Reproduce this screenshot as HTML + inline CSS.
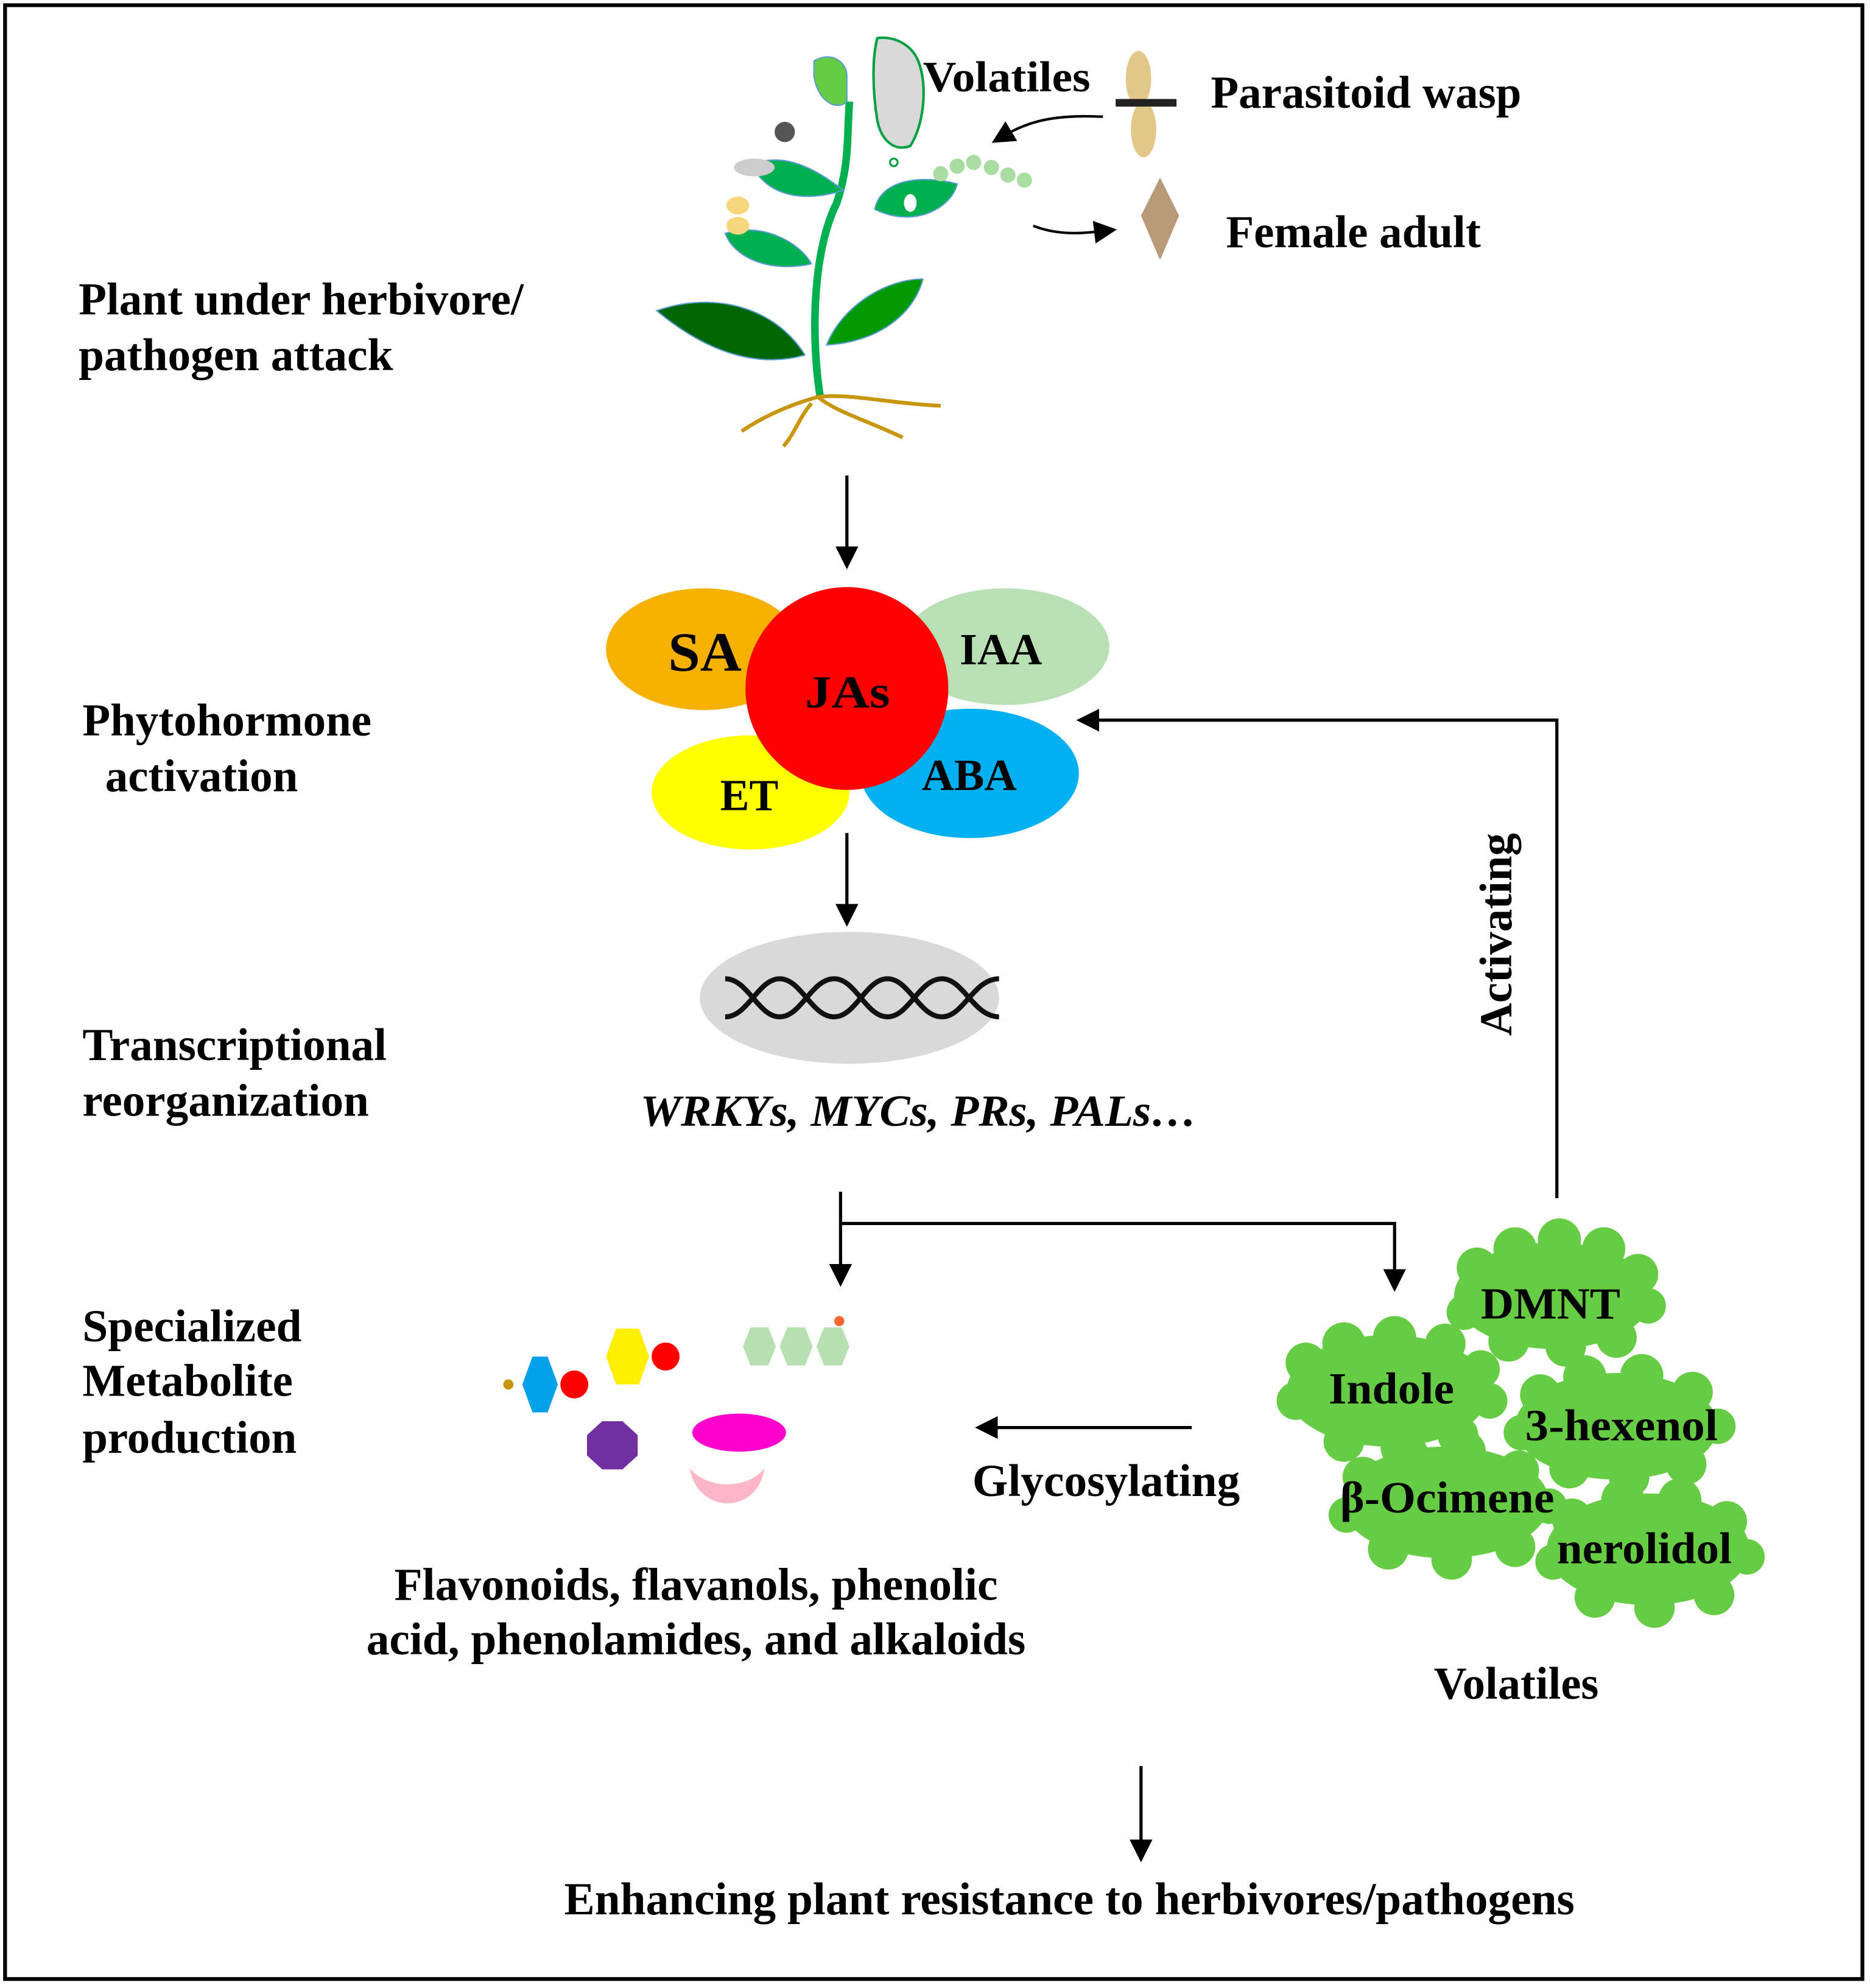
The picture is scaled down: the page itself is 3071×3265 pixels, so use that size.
<!DOCTYPE html>
<html><head><meta charset="utf-8"><style>
html,body{margin:0;padding:0;background:#fff}
svg{display:block}
text{font-family:"Liberation Serif",serif;font-weight:bold;fill:#000}
</style></head><body>
<svg width="3071" height="3265" viewBox="0 0 1475 1568" xmlns="http://www.w3.org/2000/svg">
<defs>
<marker id="ah2" markerWidth="18" markerHeight="18" refX="9" refY="9" orient="auto" markerUnits="userSpaceOnUse" viewBox="0 0 18 18">
<path d="M0,0 L18,9 L0,18 z" fill="#000"/></marker>
</defs>
<rect x="0" y="0" width="1475" height="1568" fill="#fff"/>
<rect x="4" y="4" width="1465" height="1557" fill="none" stroke="#000" stroke-width="3"/>

<!-- plant -->
<g>
<path d="M647,313 C640,270 640,200 660,160 C670,130 668,110 670,80" stroke="#00b050" stroke-width="6" fill="none"/>
<path d="M642,48 C655,40 668,48 668,60 L668,80 C660,88 645,80 642,60 Z" fill="#66cc44" stroke="#5b9bd5" stroke-width="1"/>
<path d="M518,245 C560,230 610,240 635,280 C600,290 560,280 518,245 Z" fill="#006600" stroke="#5b9bd5" stroke-width="1"/>
<path d="M652,272 C665,240 700,220 728,220 C720,250 690,270 652,272 Z" fill="#009900" stroke="#5b9bd5" stroke-width="1"/>
<path d="M572,184 C600,175 630,190 640,208 C610,215 580,205 572,184 Z" fill="#00b050" stroke="#5b9bd5" stroke-width="1"/>
<path d="M593,130 C615,120 640,130 665,150 C635,160 605,155 593,130 Z" fill="#00b050" stroke="#5b9bd5" stroke-width="1"/>
<path d="M690,165 C695,140 730,138 755,145 C750,165 720,180 690,165 Z" fill="#00b050" stroke="#5b9bd5" stroke-width="1"/>
<ellipse cx="718" cy="160" rx="5" ry="7" fill="#fff"/>
<ellipse cx="595" cy="132" rx="16" ry="7" fill="#ccc"/>
<circle cx="619" cy="104" r="8" fill="#555"/>
<ellipse cx="582" cy="162" rx="9" ry="7" fill="#f5d67a"/>
<ellipse cx="582" cy="178" rx="9" ry="7" fill="#f5d67a"/>
<path d="M692,30 C705,28 720,35 725,50 C732,70 728,100 718,115 C705,120 695,110 692,95 C688,70 688,45 692,30 Z" fill="#d9d9d9" stroke="#00a040" stroke-width="2"/>
<circle cx="705" cy="128" r="3" fill="none" stroke="#00a040" stroke-width="1.5"/>
<g fill="#a8dca0"><circle cx="742" cy="137" r="6"/><circle cx="755" cy="131" r="6"/><circle cx="768" cy="128" r="6"/><circle cx="782" cy="132" r="6"/><circle cx="795" cy="138" r="6"/><circle cx="808" cy="142" r="6"/></g>
<path d="M645,313 C670,310 700,318 742,320 M645,313 C620,320 600,330 585,340 M645,313 C660,325 680,330 712,345 M640,318 C630,330 628,340 618,352" stroke="#c8960c" stroke-width="3" fill="none"/>
</g>
<text x="728" y="72" font-size="34" textLength="132" lengthAdjust="spacingAndGlyphs">Volatiles</text>
<ellipse cx="898" cy="62" rx="10" ry="22" fill="#d9b96b" opacity="0.8"/>
<ellipse cx="902" cy="102" rx="10" ry="22" fill="#d9b96b" opacity="0.8"/>
<rect x="880" y="78" width="48" height="6" fill="#222"/>
<path d="M915,140 L930,170 L915,205 L900,170 Z" fill="#b99a78"/>
<text x="955" y="85" font-size="36" textLength="245" lengthAdjust="spacingAndGlyphs">Parasitoid wasp</text>
<text x="967" y="195" font-size="36" textLength="201" lengthAdjust="spacingAndGlyphs">Female adult</text>
<path d="M870,92 C830,90 810,96 790,108" stroke="#000" stroke-width="2" fill="none" marker-end="url(#ah2)"/>
<path d="M815,178 C835,186 855,184 872,182" stroke="#000" stroke-width="2" fill="none" marker-end="url(#ah2)"/>

<!-- left labels -->
<text x="62" y="248" font-size="36" textLength="351" lengthAdjust="spacingAndGlyphs">Plant under herbivore/</text>
<text x="62" y="292" font-size="36" textLength="248" lengthAdjust="spacingAndGlyphs">pathogen attack</text>
<text x="65" y="580" font-size="36" textLength="228" lengthAdjust="spacingAndGlyphs">Phytohormone</text>
<text x="83" y="624" font-size="36" textLength="152" lengthAdjust="spacingAndGlyphs">activation</text>
<text x="65" y="836" font-size="36" textLength="240" lengthAdjust="spacingAndGlyphs">Transcriptional</text>
<text x="65" y="880" font-size="36" textLength="226" lengthAdjust="spacingAndGlyphs">reorganization</text>
<text x="65" y="1058" font-size="36" textLength="173" lengthAdjust="spacingAndGlyphs">Specialized</text>
<text x="65" y="1101" font-size="36" textLength="166" lengthAdjust="spacingAndGlyphs">Metabolite</text>
<text x="65" y="1146" font-size="36" textLength="169" lengthAdjust="spacingAndGlyphs">production</text>

<!-- arrows -->
<line x1="668" y1="375" x2="668" y2="440" stroke="#000" stroke-width="2.5" marker-end="url(#ah2)"/>
<line x1="668" y1="657" x2="668" y2="722" stroke="#000" stroke-width="2.5" marker-end="url(#ah2)"/>
<line x1="663" y1="940" x2="663" y2="1006" stroke="#000" stroke-width="2.5" marker-end="url(#ah2)"/>
<polyline points="663,965 1100,965 1100,1010" fill="none" stroke="#000" stroke-width="2.5" marker-end="url(#ah2)"/>
<polyline points="1228,945 1228,568 858,568" fill="none" stroke="#000" stroke-width="2.5" marker-end="url(#ah2)"/>
<text transform="translate(1192,737) rotate(-90)" text-anchor="middle" font-size="36" textLength="160" lengthAdjust="spacingAndGlyphs">Activating</text>

<!-- hormones -->
<ellipse cx="555" cy="512" rx="77" ry="48" fill="#f5b000"/>
<ellipse cx="793" cy="510" rx="82" ry="46" fill="#b9e0b4"/>
<ellipse cx="592" cy="625" rx="78" ry="45" fill="#ffff00"/>
<ellipse cx="765" cy="610" rx="86" ry="51" fill="#00b0f0"/>
<circle cx="668" cy="543" r="80" fill="#ff0000"/>
<text x="527" y="529" font-size="44" textLength="58" lengthAdjust="spacingAndGlyphs">SA</text>
<text x="635" y="558" font-size="36" textLength="67" lengthAdjust="spacingAndGlyphs">JAs</text>
<text x="757" y="524" font-size="35" textLength="65" lengthAdjust="spacingAndGlyphs">IAA</text>
<text x="568" y="639" font-size="35" textLength="46" lengthAdjust="spacingAndGlyphs">ET</text>
<text x="727" y="623" font-size="35" textLength="75" lengthAdjust="spacingAndGlyphs">ABA</text>

<!-- DNA -->
<ellipse cx="670" cy="787" rx="118" ry="52" fill="#d9d9d9"/>
<path d="M572,772 C590,772 598,802 615,802 C632,802 640,772 658,772 C675,772 683,802 700,802 C717,802 725,772 743,772 C760,772 768,802 788,802" stroke="#111" stroke-width="4" fill="none"/>
<path d="M572,802 C590,802 598,772 615,772 C632,772 640,802 658,802 C675,802 683,772 700,772 C717,772 725,802 743,802 C760,802 768,772 788,772" stroke="#111" stroke-width="4" fill="none"/>
<text x="505" y="888" font-size="35" font-style="italic" textLength="439" lengthAdjust="spacingAndGlyphs">WRKYs, MYCs, PRs, PALs…</text>

<!-- metabolites -->
<polygon points="412,1092 420,1070 432,1070 440,1092 432,1114 420,1114" fill="#00a0e8"/>
<circle cx="401" cy="1092" r="4" fill="#c8960c"/>
<circle cx="453" cy="1092" r="11" fill="#ff0000"/>
<polygon points="478,1070 486,1048 504,1048 512,1070 504,1092 486,1092" fill="#ffee00"/>
<circle cx="525" cy="1070" r="11" fill="#ff0000"/>
<g fill="#b7e0b0">
<polygon points="586,1062 592,1047 606,1047 612,1062 606,1077 592,1077"/>
<polygon points="615,1062 621,1047 635,1047 641,1062 635,1077 621,1077"/>
<polygon points="644,1062 650,1047 664,1047 670,1062 664,1077 650,1077"/>
</g>
<circle cx="662" cy="1042" r="4" fill="#ff6633"/>
<polygon points="475,1121 491,1121 503,1132 503,1148 491,1159 475,1159 463,1148 463,1132" fill="#7030a0"/>
<ellipse cx="583" cy="1130" rx="37" ry="15" fill="#ff00cc"/>
<path d="M544,1158 C550,1195 598,1195 603,1158 C590,1175 558,1175 544,1158 Z" fill="#ffb6c8"/>
<text x="311" y="1262" font-size="36" textLength="476" lengthAdjust="spacingAndGlyphs">Flavonoids, flavanols, phenolic</text>
<text x="289" y="1305" font-size="36" textLength="520" lengthAdjust="spacingAndGlyphs">acid, phenolamides, and alkaloids</text>

<line x1="940" y1="1126" x2="778" y2="1126" stroke="#000" stroke-width="2.5" marker-end="url(#ah2)"/>
<text x="767" y="1180" font-size="36" textLength="211" lengthAdjust="spacingAndGlyphs">Glycosylating</text>

<!-- clouds -->
<g fill="#66cc44">
<g><ellipse cx="1225" cy="1022" rx="78" ry="42"/><circle cx="1165" cy="1000" r="16"/><circle cx="1195" cy="985" r="17"/><circle cx="1230" cy="978" r="17"/><circle cx="1265" cy="985" r="17"/><circle cx="1292" cy="1005" r="16"/><circle cx="1300" cy="1030" r="14"/><circle cx="1275" cy="1055" r="16"/><circle cx="1235" cy="1062" r="16"/><circle cx="1190" cy="1058" r="16"/><circle cx="1155" cy="1035" r="14"/></g>
<g><ellipse cx="1095" cy="1097" rx="80" ry="44"/><circle cx="1030" cy="1075" r="16"/><circle cx="1060" cy="1060" r="17"/><circle cx="1100" cy="1055" r="17"/><circle cx="1140" cy="1060" r="16"/><circle cx="1168" cy="1080" r="15"/><circle cx="1175" cy="1105" r="14"/><circle cx="1150" cy="1132" r="16"/><circle cx="1105" cy="1142" r="16"/><circle cx="1060" cy="1137" r="16"/><circle cx="1022" cy="1105" r="15"/></g>
<g><ellipse cx="1275" cy="1125" rx="80" ry="42"/><circle cx="1215" cy="1100" r="16"/><circle cx="1250" cy="1086" r="17"/><circle cx="1295" cy="1085" r="17"/><circle cx="1335" cy="1098" r="16"/><circle cx="1355" cy="1125" r="14"/><circle cx="1330" cy="1155" r="16"/><circle cx="1285" cy="1165" r="16"/><circle cx="1238" cy="1158" r="16"/><circle cx="1200" cy="1130" r="14"/></g>
<g><ellipse cx="1140" cy="1185" rx="82" ry="44"/><circle cx="1075" cy="1165" r="16"/><circle cx="1110" cy="1148" r="17"/><circle cx="1155" cy="1145" r="17"/><circle cx="1198" cy="1160" r="16"/><circle cx="1222" cy="1188" r="14"/><circle cx="1195" cy="1220" r="16"/><circle cx="1145" cy="1230" r="16"/><circle cx="1095" cy="1222" r="16"/><circle cx="1062" cy="1195" r="14"/></g>
<g><ellipse cx="1300" cy="1222" rx="80" ry="44"/><circle cx="1240" cy="1198" r="16"/><circle cx="1280" cy="1183" r="17"/><circle cx="1325" cy="1183" r="17"/><circle cx="1362" cy="1200" r="16"/><circle cx="1378" cy="1228" r="14"/><circle cx="1352" cy="1258" r="16"/><circle cx="1305" cy="1268" r="16"/><circle cx="1258" cy="1260" r="16"/><circle cx="1225" cy="1232" r="14"/></g>
</g>
<text x="1168" y="1040" font-size="35" textLength="110" lengthAdjust="spacingAndGlyphs">DMNT</text>
<text x="1048" y="1107" font-size="35" textLength="99" lengthAdjust="spacingAndGlyphs">Indole</text>
<text x="1203" y="1136" font-size="35" textLength="152" lengthAdjust="spacingAndGlyphs">3-hexenol</text>
<text x="1057" y="1193" font-size="35" textLength="169" lengthAdjust="spacingAndGlyphs">β-Ocimene</text>
<text x="1228" y="1233" font-size="35" textLength="138" lengthAdjust="spacingAndGlyphs">nerolidol</text>
<text x="1131" y="1340" font-size="36" textLength="130" lengthAdjust="spacingAndGlyphs">Volatiles</text>

<line x1="900" y1="1393" x2="900" y2="1460" stroke="#000" stroke-width="2.5" marker-end="url(#ah2)"/>
<text x="445" y="1510" font-size="36" textLength="797" lengthAdjust="spacingAndGlyphs">Enhancing plant resistance to herbivores/pathogens</text>
</svg>
</body></html>
